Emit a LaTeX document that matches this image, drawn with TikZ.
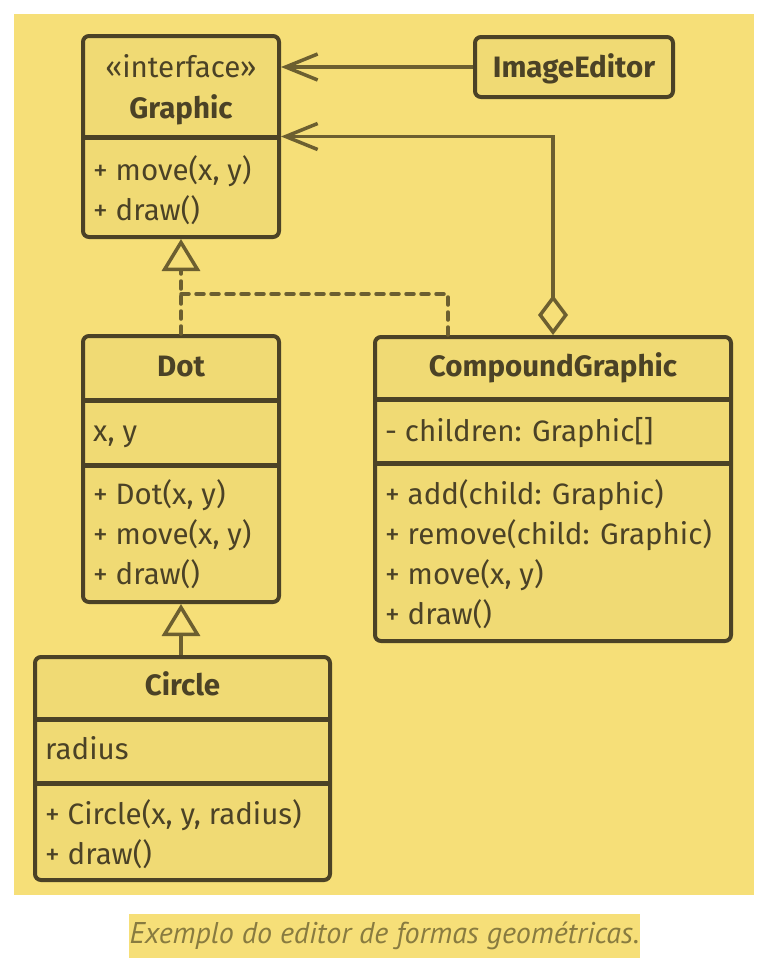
\documentclass[tikz,border=0pt]{standalone}
\usepackage{fontspec}
\setmainfont{Fira Sans}
\newfontfamily\capfont{PT Sans}
\usetikzlibrary{arrows.meta,positioning}
\definecolor{bgyellow}{HTML}{F6DF78}
\definecolor{boxfill}{HTML}{F0DA74}
\definecolor{ink}{HTML}{4B4226}
\definecolor{wire}{HTML}{6C5F30}
\definecolor{captext}{HTML}{887B40}
\tikzset{
  umlbox/.style={draw=ink, fill=boxfill, line width=4pt, rounded corners=6pt, inner sep=0pt},
  sepline/.style={draw=ink, line width=5pt},
  title/.style={text=ink, font=\fontsize{29.5}{40}\selectfont\bfseries, anchor=base, inner sep=0pt},
  member/.style={text=ink, anchor=base west, inner sep=0pt},
  assoc/.style={draw=wire, line width=3.5pt, -{Straight Barb[length=32pt,width=26pt,line width=3.5pt]}},
  aggr/.style={draw=wire, line width=3.5pt, {Diamond[open,length=40pt,width=30pt,line width=3.5pt]}-{Straight Barb[length=32pt,width=26pt,line width=3.5pt]}},
  realize/.style={draw=wire, line width=3.5pt, dash pattern=on 8pt off 7pt, line cap=round, -{Triangle[length=32pt,width=38pt,fill=bgyellow,line width=3.5pt]}},
  dashwire/.style={draw=wire, line width=3.5pt, dash pattern=on 8pt off 7pt, line cap=round},
  inherit/.style={draw=wire, line width=3.5pt, -{Triangle[length=32pt,width=38pt,fill=bgyellow,line width=3.5pt]}},
}
\begin{document}
\begin{tikzpicture}[x=1pt, y=-1pt, font=\fontsize{29.5}{40}\selectfont]
% 背景
\useasboundingbox[fill=white] (0,0) rectangle (774,972);
\fill[bgyellow] (14,14) rectangle (754,895);

% クラス(座標配置)
\node[umlbox, minimum width=196pt, minimum height=201pt] (graphic)  at (181,136.5) {};
\node[umlbox, minimum width=198pt, minimum height=60pt]  (editor)   at (574,67) {};
\node[umlbox, minimum width=196pt, minimum height=266pt] (dot)      at (181,469) {};
\node[umlbox, minimum width=356pt, minimum height=304pt] (compound) at (553,489) {};
\node[umlbox, minimum width=295pt, minimum height=223pt] (circle)   at (182.5,768.5) {};

% 区切り線
\draw[sepline] (graphic.west |- 0,137) -- (graphic.east |- 0,137);
\draw[sepline] (dot.west |- 0,400) -- (dot.east |- 0,400);
\draw[sepline] (dot.west |- 0,465) -- (dot.east |- 0,465);
\draw[sepline] (compound.west |- 0,399) -- (compound.east |- 0,399);
\draw[sepline] (compound.west |- 0,463) -- (compound.east |- 0,463);
\draw[sepline] (circle.west |- 0,719) -- (circle.east |- 0,719);
\draw[sepline] (circle.west |- 0,783) -- (circle.east |- 0,783);

% Graphic
\node[text=ink, anchor=base, inner sep=0pt] (gstereo) at (181,77) {«interface»};
\node[title] (gname) at (181,118) {Graphic};
\node[member] (gmove) at (93,180) {+ move(x, y)};
\node[member] (gdraw) at (93,220) {+ draw()};

% ImageEditor
\node[title] (ename) at (574,77) {ImageEditor};

% Dot
\node[title] (dname) at (181,376) {Dot};
\node[member] (dxy)   at (93,441) {x, y};
\node[member] (dctor) at (93,504) {+ Dot(x, y)};
\node[member] (dmove) at (93,544) {+ move(x, y)};
\node[member] (ddraw) at (93,584) {+ draw()};

% CompoundGraphic
\node[title] (cname) at (553,376) {CompoundGraphic};
\node[member] (cchild)  at (385,441) {- children: Graphic[]};
\node[member] (cadd)    at (385,504) {+ add(child: Graphic)};
\node[member] (cremove) at (385,544) {+ remove(child: Graphic)};
\node[member] (cmove)   at (385,584) {+ move(x, y)};
\node[member] (cdraw)   at (385,624) {+ draw()};

% Circle
\node[title] (rname) at (182.5,695) {Circle};
\node[member] (rrad)  at (45,759) {radius};
\node[member] (rctor) at (45,824) {+ Circle(x, y, radius)};
\node[member] (rdraw) at (45,864) {+ draw()};

% 矢印
\draw[assoc] (editor.west) -- (editor.west -| graphic.east);
\draw[aggr] (compound.north) |- (graphic.east);
\draw[realize] (dot.north) -- (graphic.south);
\coordinate (bend) at (181,294);
\draw[dashwire] ([xshift=-105pt]compound.north) |- (bend);
\draw[inherit] (dot.south |- circle.north) -- (dot.south);

% キャプション
\node[fill=bgyellow, minimum width=511pt, minimum height=44pt, inner sep=0pt,
      text=captext, font=\capfont\itshape\fontsize{30}{32}\selectfont] (caption) at (384.5,936) {Exemplo do editor de formas geométricas.};
\end{tikzpicture}
\end{document}
